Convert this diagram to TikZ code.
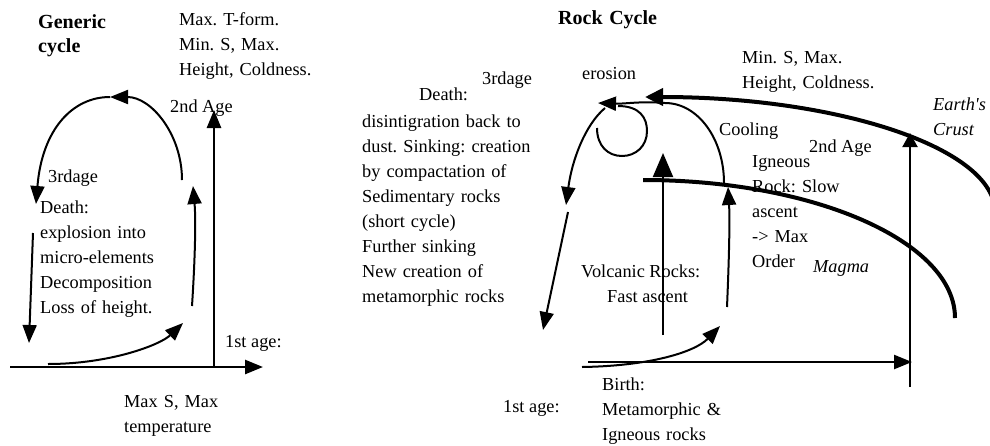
\documentclass[tikz,border=0pt]{standalone}
\usepackage{fontspec}
\setmainfont{Liberation Serif}[Ligatures=TeXOff]
\usetikzlibrary{arrows.meta}
\frenchspacing

\begin{document}
\begin{tikzpicture}[x=1pt,y=-1pt,
  lbl/.style={anchor=base west, inner sep=0pt, font=\fontsize{18.3}{25}\selectfont},
  para/.style={lbl, align=left, text width=#1},
  ttl/.style={anchor=base west, inner sep=0pt, align=left, text width=#1,
    font=\fontsize{20}{24}\selectfont\bfseries},
  head/.style={-{Triangle[length=18pt,width=14pt]}},
  axis/.style={line width=2.6pt, head},
  flow/.style={line width=2pt, head},
  layer/.style={line width=4pt},
]
\useasboundingbox (0,0) rectangle (990,445);
\clip (0,0) rectangle (990,445);

% ---------------- generic cycle ----------------
\node[ttl=90pt] (gtitle) at (38,28) {Generic\\cycle};
\node[para=150pt] (gtop) at (179,25) {Max. T-form.\\Min. S, Max.\\Height, Coldness.};
\node[lbl] (gsecond) at (170,112) {2nd Age};
\node[lbl] (gthird) at (48,182) {3rdage};
\node[para=130pt] (gdeath) at (40,213)
  {Death:\\explosion into\\micro-elements\\Decomposition\\Loss of height.};
\node[lbl] (gfirst) at (225,347) {1st age:};
\node[para=120pt] (gbottom) at (124,407) {Max S, Max\\temperature};

% axes
\coordinate (gO) at (214,367);
\coordinate (gxL) at (10,367);
\coordinate (gxR) at (263,367);
\coordinate (gyT) at (214,110);
\draw[axis] (gxL) -- (gxR);
\draw[axis] (gO) -- (gyT);

% the loop of ages
\coordinate (g1a) at (48,364);
\coordinate (g1b) at (183,323);
\coordinate (g2a) at (192,306);
\coordinate (g2b) at (193,186);
\coordinate (g3a) at (182,180);
\coordinate (g3b) at (110,97);
\coordinate (g3c) at (36,204);
\coordinate (g4a) at (33,233);
\coordinate (g4b) at (29,343);
\draw[flow] (g1a) .. controls (110,364) and (160,345) .. (g1b);
\draw[flow] (g2a) .. controls (195,260) and (196,220) .. (g2b);
\draw[flow] (g3a) .. controls (182,134) and (151,97) .. (g3b);
\draw[flow] (g3b) .. controls (72,97) and (42,130) .. (g3c);
\draw[flow] (g4a) -- (g4b);

% ---------------- rock cycle ----------------
\node[ttl=130pt] (rtitle) at (558,24) {Rock Cycle};
\node[lbl] (rerosion) at (582,79) {erosion};
\node[lbl] (rthird) at (482,84) {3rdage};
\node[lbl] (rdeath) at (419,100) {Death:};
\node[para=200pt] (rdeathtext) at (362,127)
  {disintigration back to\\dust. Sinking: creation\\by compactation of\\Sedimentary rocks\\(short cycle)\\Further sinking\\New creation of\\metamorphic rocks};
\node[para=160pt] (rtop) at (742,63) {Min. S, Max.\\Height, Coldness.};
\node[para=80pt, font=\fontsize{18.3}{25}\selectfont\itshape] (rcrust) at (933,110) {Earth's\\Crust};
\node[lbl] (rcool) at (719,135) {Cooling};
\node[lbl] (rsecond) at (809,152) {2nd Age};
\node[para=110pt] (rigneous) at (752,167) {Igneous\\Rock: Slow\\ascent\\-> Max\\Order};
\node[lbl, font=\fontsize{18.3}{25}\selectfont\itshape] (rmagma) at (813,272) {Magma};
\node[lbl] (rvolc) at (581,277) {Volcanic Rocks:};
\node[lbl] (rfast) at (607,302) {Fast ascent};
\node[lbl] (rfirst) at (503,412) {1st age:};
\node[para=150pt] (rbirth) at (602,390) {Birth:\\Metamorphic \&\\Igneous rocks};

% crust and magma boundaries
\coordinate (crustL) at (645,97);
\coordinate (crustR) at (995,212);
\coordinate (magmaL) at (643,180);
\coordinate (magmaR) at (955,318);
\draw[layer, {Triangle[length=18pt,width=17pt]}-] (crustL) .. controls (838,97) and (995,148) .. (crustR);
\draw[layer] (magmaL) .. controls (815,180) and (955,242) .. (magmaR);

% axes
\coordinate (rxL) at (588,362);
\coordinate (rxR) at (912,362);
\coordinate (ryB) at (910,387);
\coordinate (ryT) at (910,133);
\draw[line width=2.4pt, -{Triangle[length=18pt,width=14pt]}] (rxL) -- (rxR);
\draw[line width=2pt, -{Triangle[length=14pt,width=15pt]}] (ryB) -- (ryT);

% birth and ascent
\coordinate (r1a) at (582,367);
\coordinate (r1b) at (720,326);
\coordinate (r2a) at (727,307);
\coordinate (r2b) at (728,187);
\coordinate (rvB) at (663,335);
\coordinate (rvT) at (663,153);
\draw[flow] (r1a) .. controls (650,366) and (695,352) .. (r1b);
\draw[flow] (r2a) .. controls (729,260) and (730,220) .. (r2b);
\draw[line width=2pt, -{Triangle[length=24pt,width=20pt]}] (rvB) -- (rvT);

% cooling towards erosion
\coordinate (c0) at (724,183);
\coordinate (c1) at (665,103);
\coordinate (c2) at (598,103);
\draw[flow] (c0) .. controls (724,139) and (698,103) .. (c1)
  .. controls (640,101) and (625,104) .. (c2);

% erosion loop
\coordinate (e0) at (618,106);
\coordinate (e1) at (597,128);
\draw[line width=2pt] (e0) .. controls (640,106) and (647,118) .. (647,131)
  .. controls (647,146) and (636,156) .. (622,156)
  .. controls (608,156) and (597,146) .. (e1);

% sinking
\coordinate (s0) at (605,108);
\coordinate (s1) at (566,205);
\coordinate (s2) at (568,212);
\coordinate (s3) at (543,330);
\draw[flow] (s0) .. controls (585,125) and (572,160) .. (s1);
\draw[flow] (s2) -- (s3);
\end{tikzpicture}
\end{document}
